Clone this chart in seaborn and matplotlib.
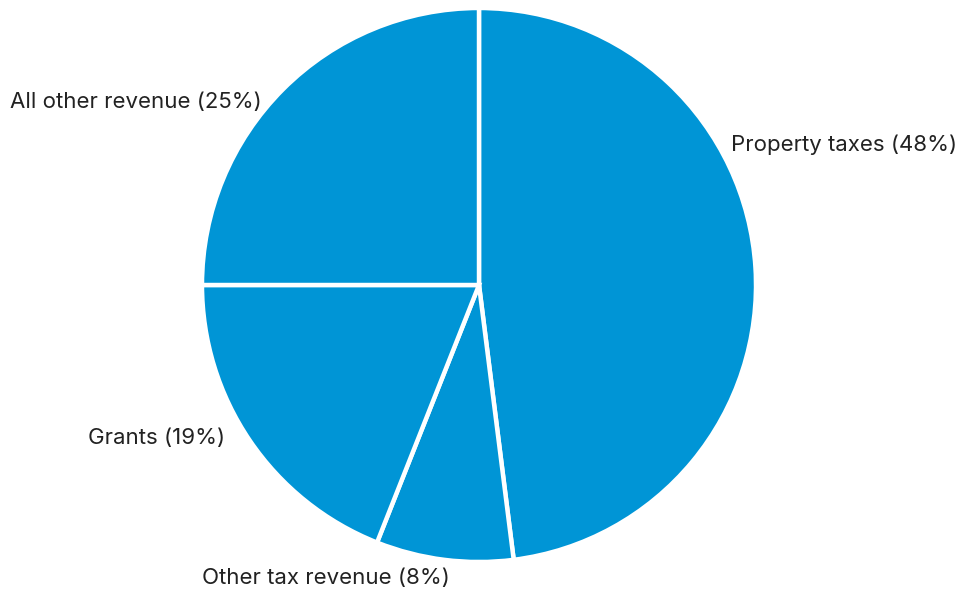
import matplotlib
matplotlib.use("Agg")
import matplotlib.pyplot as plt
import seaborn as sns

# Revenue shares (percent), clockwise from 12 o'clock
categories = ["Property taxes", "Other tax revenue", "Grants", "All other revenue"]
shares = [48, 8, 19, 25]

sns.set_theme(style="white")
plt.rcParams["font.family"] = ["Inter", "DejaVu Sans"]

W, H = 961, 592
fig = plt.figure(figsize=(W / 100, H / 100), dpi=100)
ax = fig.add_axes([0, 0, 1, 1])

blue = "#0095D6"
ax.pie(
    shares,
    colors=[blue] * len(shares),
    startangle=90,
    counterclock=False,
    center=(479, H - 285),
    radius=277,
    wedgeprops=dict(edgecolor="white", linewidth=3.2),
    frame=True,
)
ax.set_xlim(0, W)
ax.set_ylim(0, H)
ax.set_aspect("equal")
ax.axis("off")

# label anchors (left edge, vertical middle) in pixel space, y measured from top
label_pos = {
    "Property taxes": (731, 145),
    "Other tax revenue": (202, 578),
    "Grants": (88, 438),
    "All other revenue": (10, 102),
}
for name, val in zip(categories, shares):
    x, y = label_pos[name]
    ax.text(x, H - y, f"{name} ({val}%)", ha="left", va="center",
            fontsize=16, color="#222222")

fig.savefig("out.png", dpi=100)
